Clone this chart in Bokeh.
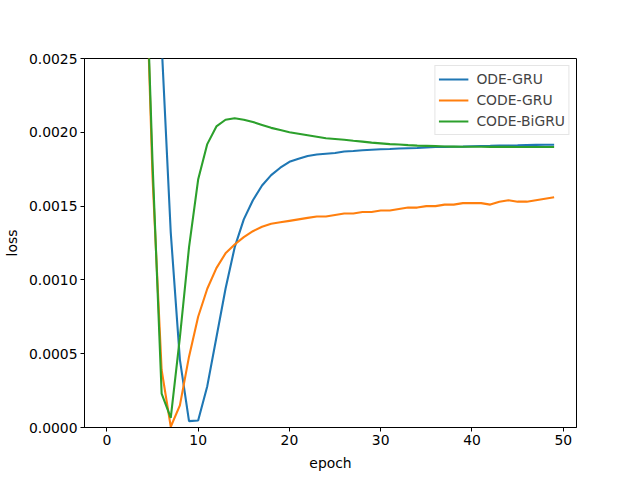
from bokeh.plotting import figure
from bokeh.models import FixedTicker, PrintfTickFormatter, Range1d, Legend, LegendItem
from bokeh.embed import file_html
from bokeh.resources import INLINE

epochs = list(range(50))

ode_gru = [0.0300, 0.0200, 0.0140, 0.0100, 0.0070, 0.0045, 0.0026, 0.00132, 0.00046, 0.000043,
           0.000047, 0.00028, 0.00061, 0.00094, 0.00122, 0.00141, 0.00154, 0.00164, 0.00171, 0.00176,
           0.00180, 0.00182, 0.00184, 0.00185, 0.001855, 0.00186, 0.00187, 0.001873, 0.001878, 0.001882,
           0.001885, 0.001887, 0.00189, 0.001892, 0.001894, 0.001897, 0.0019, 0.001901, 0.001902, 0.001903,
           0.001905, 0.001907, 0.001908, 0.00191, 0.001911, 0.001912, 0.001914, 0.001915, 0.001916, 0.001916]

code_gru = [0.0300, 0.0200, 0.0130, 0.0080, 0.0037, 0.0017, 0.00039, 0.000005, 0.00015, 0.00048,
            0.00075, 0.00094, 0.00108, 0.00118, 0.00124, 0.00129, 0.00133, 0.00136, 0.00138, 0.00139,
            0.00140, 0.00141, 0.00142, 0.00143, 0.00143, 0.00144, 0.00145, 0.00145, 0.00146, 0.00146,
            0.00147, 0.00147, 0.00148, 0.00149, 0.00149, 0.00150, 0.00150, 0.00151, 0.00151, 0.00152,
            0.00152, 0.00152, 0.00151, 0.00153, 0.00154, 0.00153, 0.00153, 0.00154, 0.00155, 0.00156]

code_bigru = [0.0300, 0.0200, 0.0130, 0.0080, 0.0037, 0.0018, 0.00023, 0.000065, 0.00061, 0.00122,
              0.00168, 0.00192, 0.00204, 0.002085, 0.002095, 0.002085, 0.00207, 0.00205, 0.00203, 0.002015,
              0.00200, 0.00199, 0.00198, 0.00197, 0.00196, 0.001955, 0.00195, 0.001943, 0.001937, 0.00193,
              0.001925, 0.00192, 0.001917, 0.001913, 0.00191, 0.001908, 0.001906, 0.001904, 0.001903, 0.001902,
              0.001902, 0.001902, 0.001901, 0.001901, 0.001901, 0.0019, 0.0019, 0.0019, 0.0019, 0.0019]

names = ["ODE-GRU", "CODE-GRU", "CODE-BiGRU"]
colors = ["#1f77b4", "#ff7f0e", "#2ca02c"]
x_ticks = [0, 10, 20, 30, 40, 50]
y_ticks = [0.0, 0.0005, 0.0010, 0.0015, 0.0020, 0.0025]

FONT = "DejaVu Sans"

p = figure(width=640, height=480, output_backend="svg", toolbar_location=None,
           x_range=Range1d(-2.45, 51.45), y_range=Range1d(0.0, 0.0025),
           min_border_left=80, min_border_right=64, min_border_top=58, min_border_bottom=53)

renderers = []
for series, name, color in zip([ode_gru, code_gru, code_bigru], names, colors):
    r = p.line(epochs, series, line_color=color, line_width=2.1)
    renderers.append((name, r))

p.xgrid.visible = False
p.ygrid.visible = False
p.outline_line_color = "black"
p.outline_line_width = 1
p.outline_line_alpha = 1.0

for ax in (p.xaxis[0], p.yaxis[0]):
    ax.major_tick_out = 4
    ax.major_tick_in = 0
    ax.minor_tick_out = 0
    ax.minor_tick_in = 0
    ax.major_label_standoff = 3
    ax.major_label_text_font = FONT
    ax.major_label_text_font_size = "13.9px"
    ax.major_label_text_color = "black"
    ax.axis_label_text_font = FONT
    ax.axis_label_text_font_size = "13.9px"
    ax.axis_label_text_font_style = "normal"
    ax.axis_label_text_color = "black"
    ax.axis_line_color = "black"
    ax.major_tick_line_color = "black"

p.xaxis[0].ticker = FixedTicker(ticks=x_ticks)
p.yaxis[0].ticker = FixedTicker(ticks=y_ticks)
p.yaxis[0].formatter = PrintfTickFormatter(format="%.4f")
p.xaxis[0].axis_label = "epoch"
p.yaxis[0].axis_label = "loss"
p.xaxis[0].axis_label_standoff = 7
p.yaxis[0].axis_label_standoff = 6

legend = Legend(items=[LegendItem(label=n, renderers=[r]) for n, r in renderers],
                location="top_right", margin=7, padding=3, spacing=1,
                glyph_width=30, glyph_height=20, label_height=20, label_standoff=8,
                label_text_font=FONT, label_text_font_size="13.9px",
                border_line_color="#cccccc", border_line_width=1,
                background_fill_color="white", background_fill_alpha=0.8)
p.add_layout(legend)

open("out.html", "w").write(file_html(p, INLINE))
